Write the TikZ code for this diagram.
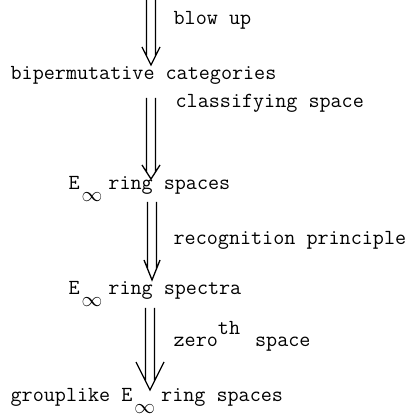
\documentclass[tikz,border=0pt]{standalone}
\usepackage{amsmath}
\usepackage{amssymb}
\usepackage{xcolor}
\usepackage{tikz}
\usetikzlibrary{calc}
\def\gp{4.5}
\def\hw{9}
\def\hl{18}
\newcommand{\Einf}{E\hspace{2pt}\raisebox{-12pt}{$\infty$}\hspace{6pt}}
\begin{document}
\begin{tikzpicture}[x=1pt,y=1pt,line width=1.3pt]
              \tikzstyle{txt}=[inner sep=0pt,anchor=base west,font=\fontsize{21.5}{24}\selectfont\ttfamily]
              \tikzstyle{dbl}=[to path={
                ($(\tikztostart)+(-\gp,0)$) -- ($(\tikztotarget)+(-\gp,\hl*\gp/\hw)$)
                ($(\tikztostart)+(\gp,0)$) -- ($(\tikztotarget)+(\gp,\hl*\gp/\hw)$)
                ($(\tikztotarget)+(-\hw,\hl)$) -- (\tikztotarget) -- ($(\tikztotarget)+(\hw,\hl)$)}]
              \tikzset{head/.code 2 args={\def\hw{#1}\def\hl{#2}}}
              \useasboundingbox (0,0) rectangle (414,417);

              \node[txt] (blowup)   at (173,392) {blow up};
              \node[txt] (bip)      at (10,337)  {bipermutative categories};
              \node[txt] (clsp)     at (175,309) {classifying space};
              \node[txt] (einfsp)   at (68,227)  {\Einf ring spaces};
              \node[txt] (recog)    at (173,172) {recognition principle};
              \node[txt] (einfspec) at (68,122)  {\Einf ring spectra};
              \node[txt] (zeroth)   at (173,70)  {zero\raisebox{12pt}{th}\hspace{4pt} space};
              \node[txt] (grp)      at (10,15)   {grouplike \Einf ring spaces};

              % arrow ends
              \coordinate (top) at (151,417);
              \coordinate (t1)  at (151,352);
              \coordinate (s2)  at (151,319);
              \coordinate (t2)  at (151,238);
              \coordinate (s3)  at (152,215);
              \coordinate (t3)  at (152,137);
              \coordinate (s4)  at (150,109);
              \coordinate (t4)  at (150,27);

              \path (top) edge [dbl]               (t1)
                    (s2)  edge [dbl,head={9}{14}]  (t2)
                    (s3)  edge [dbl,head={8}{20}]  (t3)
                    (s4)  edge [dbl,head={14}{28}] (t4);
\end{tikzpicture}
\end{document}
